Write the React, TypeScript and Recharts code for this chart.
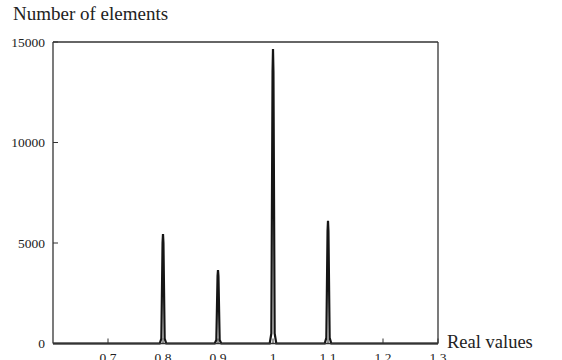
import React from 'react';
import { LineChart, Line, XAxis, YAxis } from 'recharts';

// histogram of real values, sampled around each spike
const realValues = [
  0.6,
  0.794, 0.797, 0.7992, 0.8, 0.8008, 0.803, 0.806,
  0.894, 0.897, 0.8992, 0.9, 0.9008, 0.903, 0.906,
  0.994, 0.997, 0.9992, 1.0, 1.0008, 1.003, 1.006,
  1.094, 1.097, 1.0992, 1.1, 1.1008, 1.103, 1.106,
  1.3,
];
const elementCounts = [
  0,
  0, 250, 5000, 5450, 5000, 250, 0,
  0, 180, 3350, 3650, 3350, 180, 0,
  0, 500, 13500, 14650, 13500, 500, 0,
  0, 280, 5600, 6100, 5600, 280, 0,
  0,
];
const xTicks = [0.7, 0.8, 0.9, 1, 1.1, 1.2, 1.3];
const yTicks = [0, 5000, 10000, 15000];

const data = realValues.map((x, i) => ({ x, count: elementCounts[i] }));

const axisColor = '#333';
const serif = '"Liberation Serif", "DejaVu Serif", serif';
const tickStyle = { fontFamily: serif, fontSize: 13.5, fill: '#222' };

const XTick = (props: any) => {
  const { x, y, payload } = props;
  return (
    <text x={x} y={y} dy={10} textAnchor="middle" style={tickStyle}>
      {String(payload.value)}
    </text>
  );
};

const YTick = (props: any) => {
  const { x, y, payload } = props;
  return (
    <text x={x} y={y} dy={4.5} textAnchor="end" style={tickStyle}>
      {String(payload.value)}
    </text>
  );
};

const App: React.FC = () => {
  return (
    <div
      style={{
        position: 'absolute',
        left: 0,
        top: 0,
        width: 562,
        height: 360,
        background: '#fff',
        fontFamily: serif,
        overflow: 'hidden',
      }}
    >
      <LineChart
        width={562}
        height={360}
        data={data}
        margin={{ top: 0, right: 0, bottom: 0, left: 0 }}
        style={{ fontFamily: serif }}
      >
        <XAxis
          dataKey="x"
          type="number"
          domain={[0.6, 1.3]}
          ticks={xTicks}
          height={16.5}
          tickSize={-5}
          tickMargin={13}
          tick={<XTick />}
          axisLine={{ stroke: axisColor, strokeWidth: 1.3 }}
          tickLine={{ stroke: axisColor }}
          interval={0}
          allowDataOverflow
        />
        <XAxis
          xAxisId="top"
          orientation="top"
          dataKey="x"
          type="number"
          domain={[0.6, 1.3]}
          ticks={xTicks}
          height={42}
          tickSize={-5}
          tick={false}
          axisLine={{ stroke: axisColor, strokeWidth: 1.3 }}
          tickLine={{ stroke: axisColor }}
          allowDataOverflow
        />
        <YAxis
          type="number"
          domain={[0, 15000]}
          ticks={yTicks}
          width={53}
          tickSize={-5}
          tickMargin={13}
          tick={<YTick />}
          axisLine={{ stroke: axisColor, strokeWidth: 1.3 }}
          tickLine={{ stroke: axisColor }}
          interval={0}
        />
        <YAxis
          yAxisId="right"
          orientation="right"
          type="number"
          domain={[0, 15000]}
          ticks={yTicks}
          width={124}
          tickSize={-5}
          tick={false}
          axisLine={{ stroke: axisColor, strokeWidth: 1.3 }}
          tickLine={{ stroke: axisColor }}
        />
        <Line
          type="linear"
          dataKey="count"
          stroke="#151515"
          strokeWidth={2.2}
          dot={false}
          isAnimationActive={false}
        />
      </LineChart>
      <div style={{ position: 'absolute', left: 13, top: 4, fontSize: 19, lineHeight: 1, color: '#222' }}>
        Number of elements
      </div>
      <div style={{ position: 'absolute', left: 447, top: 333, fontSize: 18.5, lineHeight: 1, color: '#222' }}>
        Real values
      </div>
    </div>
  );
};

export default App;
